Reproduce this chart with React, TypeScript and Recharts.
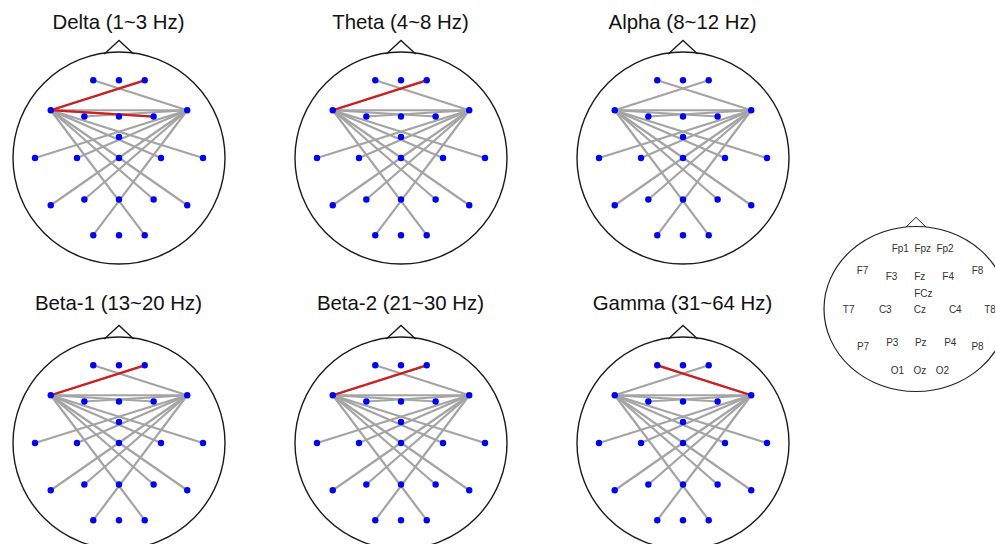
import React from 'react';
import { ScatterChart, Scatter, XAxis, YAxis, ReferenceDot } from 'recharts';

// electrode layout, head radius = 1, y up
const electrodeNames = ['Fp1', 'Fpz', 'Fp2', 'F7', 'F3', 'Fz', 'F4', 'F8', 'FCz', 'T7', 'C3', 'Cz', 'C4', 'T8', 'P7', 'P3', 'Pz', 'P4', 'P8', 'O1', 'Oz', 'O2'];
const electrodeX = [-0.245, 0, 0.245, -0.65, -0.33, 0, 0.33, 0.65, 0, -0.8, -0.4, 0, 0.4, 0.8, -0.65, -0.33, 0, 0.33, 0.65, -0.245, 0, 0.245];
const electrodeY = [0.74, 0.74, 0.74, 0.455, 0.395, 0.395, 0.395, 0.455, 0.2, 0, 0, 0, 0, 0, -0.45, -0.395, -0.395, -0.395, -0.45, -0.735, -0.735, -0.735];

const bandTitles = ['Delta (1~3 Hz)', 'Theta (4~8 Hz)', 'Alpha (8~12 Hz)', 'Beta-1 (13~20 Hz)', 'Beta-2 (21~30 Hz)', 'Gamma (31~64 Hz)'];

// connections shown in every band
const grayEdges = [
  ['F7', 'F8'], ['F7', 'Fp2'], ['F8', 'Fp1'], ['F7', 'F4'], ['F8', 'F3'],
  ['F7', 'C4'], ['F8', 'C3'], ['F7', 'T8'], ['F8', 'T7'], ['F7', 'P4'],
  ['F8', 'P3'], ['F7', 'P8'], ['F8', 'P7'], ['F7', 'O2'], ['F8', 'O1'],
];

// significant connections per band (drawn red)
const redEdges = [
  [['F7', 'Fp2'], ['F7', 'F4']],
  [['F7', 'Fp2']],
  [],
  [['F7', 'Fp2']],
  [['F7', 'Fp2']],
  [['Fp1', 'F8']],
];

const noseX = [-0.14, 0, 0.14];
const noseY = [0.99, 1.12, 0.99];

// montage legend: label positions around its own head centre
const refLabelX = [-15.7, 6.8, 29, -53.5, -24.5, 3.8, 32.2, 61.5, 7.3, -67.3, -30.7, 3.8, 39.3, 74, -53, -23.7, 4.8, 34.3, 61.5, -18.5, 3.8, 26.5];
const refLabelY = [61, 61, 61, 38.4, 32.7, 32.7, 32.7, 38.4, 15.7, -0.6, -0.6, -0.6, -0.6, -0.6, -37.9, -33.3, -33.3, -33.3, -37.9, -61.3, -61.3, -61.3];
const refNoseX = [-10, 0, 10];
const refNoseY = [82, 91.7, 82];

const electrodes = electrodeNames.map((name, i) => ({ name, x: electrodeX[i], y: electrodeY[i] }));
const pos = (name: string) => electrodes.find((e) => e.name === name)!;
const nose = noseX.map((x, i) => ({ x, y: noseY[i] }));
const refLabels = electrodeNames.map((name, i) => ({ name, x: refLabelX[i], y: refLabelY[i] }));
const refNose = refNoseX.map((x, i) => ({ x, y: refNoseY[i] }));

const FONT = '"Liberation Sans", Arial, sans-serif';
const SIZE = 252; // 105 px per unit with domain +-1.2
const centersX = [118.5, 400.5, 682.5];
const centersY = [158.3, 443.3];
const titleTop = [11.7, 293.4];

const noDot = () => <g />;

const Head = ({ band }: { band: number }) => {
  const col = band % 3;
  const row = Math.floor(band / 3);
  const cx = centersX[col];
  const cy = centersY[row];
  return (
    <>
      <div
        style={{
          position: 'absolute',
          left: cx - 130,
          width: 260,
          top: titleTop[row],
          textAlign: 'center',
          fontFamily: FONT,
          fontSize: 20.4,
          lineHeight: '20.4px',
          color: '#111',
        }}
      >
        {bandTitles[band]}
      </div>
      <div style={{ position: 'absolute', left: cx - SIZE / 2, top: cy - SIZE / 2 }}>
        <ScatterChart width={SIZE} height={SIZE} margin={{ top: 0, right: 0, bottom: 0, left: 0 }}>
          <XAxis type="number" dataKey="x" domain={[-1.2, 1.2]} hide />
          <YAxis type="number" dataKey="y" domain={[-1.2, 1.2]} hide />
          <ReferenceDot x={0} y={0} r={106} fill="none" stroke="#1a1a1a" strokeWidth={1.4} />
          <Scatter
            data={nose}
            shape={noDot}
            line={{ stroke: '#1a1a1a', strokeWidth: 1.3 }}
            isAnimationActive={false}
          />
          {grayEdges.map(([a, b], i) => (
            <Scatter
              key={`g${i}`}
              data={[pos(a), pos(b)]}
              shape={noDot}
              line={{ stroke: '#a4a4a4', strokeWidth: 2.2 }}
              isAnimationActive={false}
            />
          ))}
          {redEdges[band].map(([a, b], i) => (
            <Scatter
              key={`r${i}`}
              data={[pos(a), pos(b)]}
              shape={noDot}
              line={{ stroke: '#d41c1c', strokeWidth: 2.3 }}
              isAnimationActive={false}
            />
          ))}
          <Scatter
            data={electrodes}
            shape={(p: any) => <circle cx={p.cx} cy={p.cy} r={3.2} fill="#0000ff" />}
            isAnimationActive={false}
          />
        </ScatterChart>
      </div>
    </>
  );
};

const MontageLegend = () => (
  <div style={{ position: 'absolute', left: 816, top: 209.4 }}>
    <ScatterChart width={200} height={200} margin={{ top: 0, right: 0, bottom: 0, left: 0 }}>
      <XAxis type="number" dataKey="x" domain={[-100, 100]} hide />
      <YAxis type="number" dataKey="y" domain={[-100, 100]} hide />
      <ReferenceDot
        x={0}
        y={0}
        r={92}
        shape={(p: any) => (
          <ellipse cx={p.cx} cy={p.cy} rx={92} ry={82.5} fill="none" stroke="#222" strokeWidth={1.2} />
        )}
      />
      <Scatter data={refNose} shape={noDot} line={{ stroke: '#222', strokeWidth: 1 }} isAnimationActive={false} />
      <Scatter
        data={refLabels}
        isAnimationActive={false}
        shape={(p: any) => (
          <text
            x={p.cx}
            y={p.cy}
            textAnchor="middle"
            dominantBaseline="central"
            fontFamily={FONT}
            fontSize={10}
            fill="#333"
          >
            {p.payload.name}
          </text>
        )}
      />
    </ScatterChart>
  </div>
);

export default function App() {
  return (
    <div
      style={{
        position: 'absolute',
        left: 0,
        top: 0,
        width: 995,
        height: 544,
        overflow: 'hidden',
        background: '#fff',
      }}
    >
      {bandTitles.map((_, i) => (
        <Head key={i} band={i} />
      ))}
      <MontageLegend />
    </div>
  );
}
